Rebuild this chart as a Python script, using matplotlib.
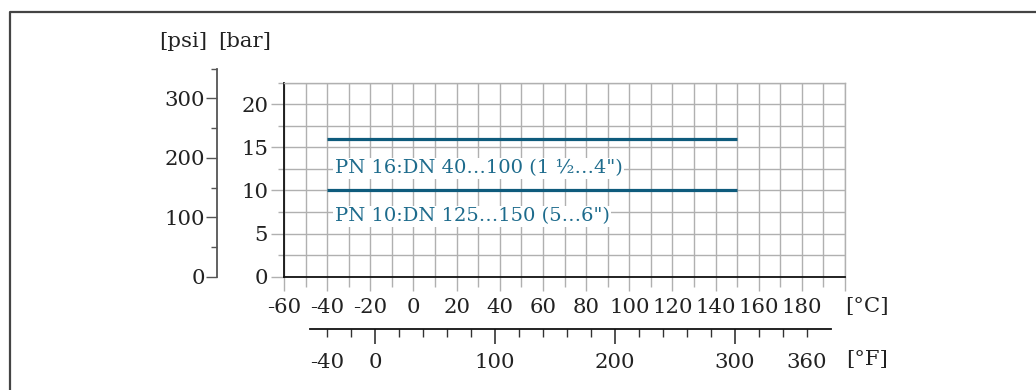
import matplotlib.pyplot as plt
from matplotlib.lines import Line2D
from matplotlib.ticker import FixedLocator, FixedFormatter, MultipleLocator

# pressure-temperature rating, bar vs degC
temp_c = [-40, 150]
pn16_bar = [16, 16]
pn10_bar = [10, 10]
pn16_label = 'PN 16:DN 40…100 (1 ½…4")'
pn10_label = 'PN 10:DN 125…150 (5…6")'

c_ticks = list(range(-60, 201, 20))
c_labels = [str(t) for t in c_ticks[:-1]] + ['']
bar_ticks = [0, 5, 10, 15, 20]
psi_ticks = [0, 100, 200, 300]
f_major = [0, 100, 200, 300]
f_minor = [-40, -20, 20, 40, 60, 80, 120, 140, 160, 180, 220, 240, 260, 280, 320, 340, 360]
f_minor_labels = ['-40'] + [''] * 15 + ['360']

W, H = 1036, 390
PSI_PER_BAR = 14.5038
plt.rcParams['font.family'] = ['DejaVu Serif']
FS = 15.3
TXT = '#222222'
GRID = '#b0b0b0'
BLUE = '#0e5b7c'
BLUE_TXT = '#1d6b8c'


def box(x0, y0, x1, y1):
    return [x0 / W, 1 - y1 / H, (x1 - x0) / W, (y1 - y0) / H]


def c2f(c):
    return c * 9 / 5 + 32


fig = plt.figure(figsize=(W / 100, H / 100), dpi=100)

# main bar / degC axes
x0, x1, ytop, ybot = 284, 845, 82.7, 276.7
ax = fig.add_axes(box(x0, ytop, x1, ybot))
ax.set_xlim(-60, 200)
ax.set_ylim(0, 22.5)
ax.xaxis.set_major_locator(FixedLocator(c_ticks))
ax.xaxis.set_major_formatter(FixedFormatter(c_labels))
ax.xaxis.set_minor_locator(MultipleLocator(10))
ax.yaxis.set_major_locator(FixedLocator(bar_ticks))
ax.yaxis.set_minor_locator(MultipleLocator(2.5))
ax.grid(which='both', color=GRID, lw=1)
ax.set_axisbelow(True)
for s in ['top', 'right']:
    ax.spines[s].set_color(GRID)
    ax.spines[s].set_linewidth(1)
for s in ['left', 'bottom']:
    ax.spines[s].set_color('#111111')
    ax.spines[s].set_linewidth(1.3)
ax.tick_params(axis='x', which='major', length=10, width=1, color=GRID,
               labelsize=FS, labelcolor=TXT, pad=5.5)
ax.tick_params(axis='x', which='minor', length=7.2, width=1, color=GRID)
ax.tick_params(axis='y', which='major', length=9.4, width=1, color=GRID,
               labelsize=FS, labelcolor=TXT, pad=2)
ax.tick_params(axis='y', which='minor', length=4.3, width=1, color=GRID)

ax.plot(temp_c, pn16_bar, color=BLUE, lw=2.3, solid_capstyle='butt')
ax.plot(temp_c, pn10_bar, color=BLUE, lw=2.3, solid_capstyle='butt')
bb = dict(fc='white', ec='none', pad=1)
ax.text(-36.5, 12.0, pn16_label, color=BLUE_TXT, fontsize=14,
        ha='left', va='baseline', bbox=bb)
ax.text(-36.5, 6.4, pn10_label, color=BLUE_TXT, fontsize=14,
        ha='left', va='baseline', bbox=bb)

# psi axis
bar_px = (ybot - ytop) / 22.5
ptop = ybot - 350 / PSI_PER_BAR * bar_px
axp = fig.add_axes(box(217.3, ptop, 218.3, ybot))
axp.set_ylim(0, 350)
axp.patch.set_visible(False)
for s in ['top', 'right', 'bottom']:
    axp.spines[s].set_visible(False)
axp.spines['left'].set_color('#555555')
axp.spines['left'].set_linewidth(1.3)
axp.set_xticks([])
axp.yaxis.set_major_locator(FixedLocator(psi_ticks))
axp.yaxis.set_minor_locator(FixedLocator([50, 150, 250, 350]))
axp.tick_params(axis='y', which='major', length=7.6, width=1, color='#555555',
                labelsize=FS, labelcolor=TXT, pad=1)
axp.tick_params(axis='y', which='minor', length=4.5, width=1, color='#555555')

# degF axis
fy = 329.3
axf = fig.add_axes(box(x0, fy - 2, x1, fy))
axf.set_xlim(c2f(-60), c2f(200))
axf.patch.set_visible(False)
for s in ['top', 'right', 'left']:
    axf.spines[s].set_visible(False)
axf.spines['bottom'].set_color('#111111')
axf.spines['bottom'].set_linewidth(1.3)
axf.spines['bottom'].set_bounds(-54, 380)
axf.set_yticks([])
axf.xaxis.set_major_locator(FixedLocator(f_major))
axf.xaxis.set_minor_locator(FixedLocator(f_minor))
axf.xaxis.set_minor_formatter(FixedFormatter(f_minor_labels))
axf.tick_params(axis='x', which='major', length=10.8, width=1.2, color='#333333',
                labelsize=FS, labelcolor=TXT, pad=6.5)
axf.tick_params(axis='x', which='minor', length=5.8, width=1, color='#333333',
                labelsize=FS, labelcolor=TXT, pad=11.5)

# unit labels
fig.text(183.3 / W, 1 - 41.7 / H, '[psi]', fontsize=FS, color=TXT, ha='center', va='center')
fig.text(244.3 / W, 1 - 41.7 / H, '[bar]', fontsize=FS, color=TXT, ha='center', va='center')
fig.text(866.7 / W, 1 - 306.7 / H, '[°C]', fontsize=FS, color=TXT, ha='center', va='center')
fig.text(866.7 / W, 1 - 360 / H, '[°F]', fontsize=FS, color=TXT, ha='center', va='center')

# outer frame (only top and left edges fall inside the picture)
fig.add_artist(Line2D([10 / W, 10 / W, 1.0], [0.0, 1 - 12 / H, 1 - 12 / H],
                      transform=fig.transFigure, color='#444444', lw=1.6))

fig.savefig('out.png', dpi=100)
